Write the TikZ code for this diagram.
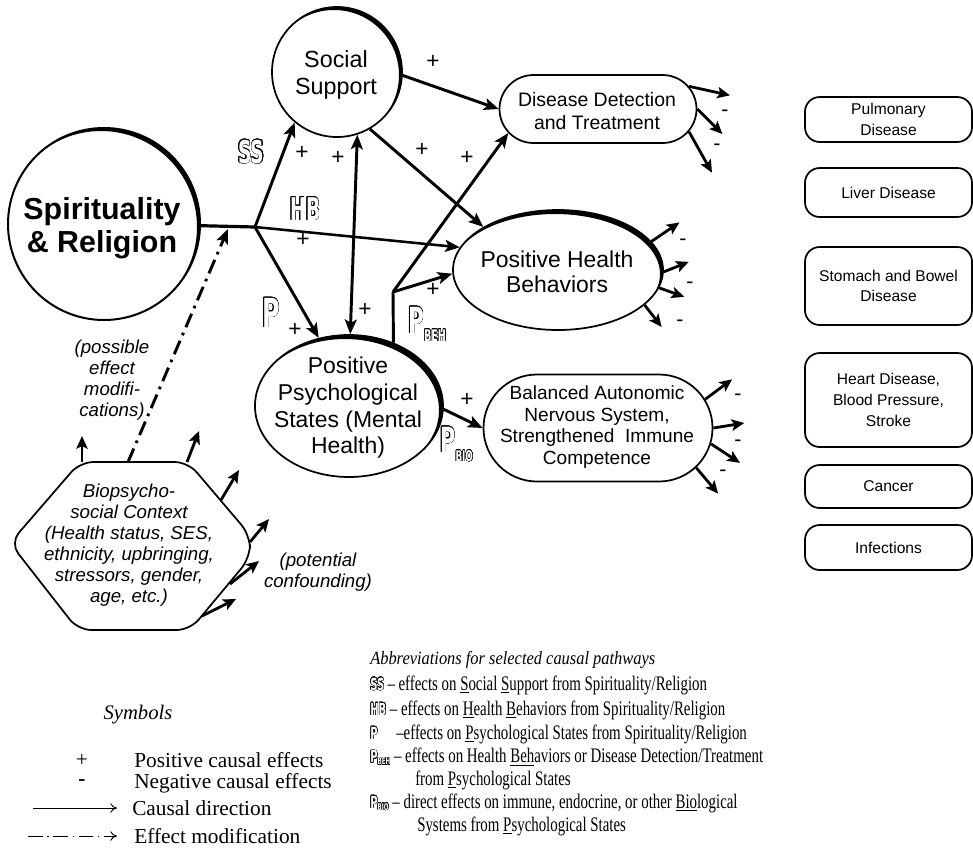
\documentclass[tikz,border=0pt]{standalone}
\usepackage{fontspec}
\setmainfont{Liberation Serif}
\setsansfont{Liberation Sans}
\newfontfamily\decofont[FakeStretch=0.6]{DejaVu Sans}
\newfontfamily\legfont[FakeStretch=0.72]{Liberation Serif}
\newfontfamily\hdrfont[FakeStretch=0.88]{Liberation Serif}
\usepackage{contour}
\usetikzlibrary{shapes.geometric,shapes.misc,arrows.meta}
\newcommand\hol[3]{{\contourlength{#2}\decofont\bfseries\fontsize{#1}{#1}\selectfont\color{white}\contour{black}{#3}}}
\newcommand\symL[1]{\hol{12.5}{0.3pt}{#1}}
\newcommand\subL[1]{\raisebox{-1.5pt}{\hol{7}{0.22pt}{#1}}}
\tikzset{bigtip/.tip={Stealth[length=11pt,width=9pt,inset=2.5pt]},
         smtip/.tip={Stealth[length=9.5pt,width=8.5pt,inset=2pt]}}
\begin{document}
\begin{tikzpicture}[x=0.75pt,y=-0.75pt,
  shp/.style={draw,line width=1.3pt,inner sep=0pt},
  lbl/.style={align=center,inner sep=0pt},
  arr/.style={line width=2.2pt,-bigtip},
  darr/.style={line width=2.2pt,bigtip-bigtip},
  oarr/.style={line width=2.1pt,-smtip},
  plussign/.style={inner sep=0pt,font=\sffamily\fontsize{17}{17}\selectfont},
  minussign/.style={inner sep=0pt,font=\sffamily\fontsize{16}{16}\selectfont},
  dbox/.style={shp,rectangle,rounded corners=11pt,minimum width=125.25pt,align=center,font=\sffamily\fontsize{11.7}{15.5}\selectfont},
  itl/.style={align=center,inner sep=0pt,font=\sffamily\itshape\fontsize{14}{15.75}\selectfont},
  leg/.style={inner sep=0pt,anchor=west,font=\fontsize{16}{19}\selectfont},
  rleg/.style={inner sep=0pt,anchor=west,font=\legfont\fontsize{15.5}{18}\selectfont},
  dashdot/.style={dash pattern=on 11pt off 4.5pt on 2pt off 4.5pt}]
\useasboundingbox (0,0) rectangle (973,854);

% ---------- main shapes ----------
\node[shp,circle,minimum size=144pt,line width=1.5pt] (sr) at (104,224) {};
\node[lbl,font=\sffamily\bfseries\fontsize{22.8}{24.75}\selectfont] (srt) at (102,228) {Spirituality\\\& Religion};
\node[shp,circle,minimum size=97.5pt] (sup) at (337,72) {};
\node[lbl,font=\sffamily\fontsize{17.5}{20}\selectfont] (supt) at (336,75) {Social\\Support};
\node[shp,rounded rectangle,minimum width=147.75pt,minimum height=51pt] (dd) at (598,109) {};
\node[lbl,font=\sffamily\fontsize{14.6}{17.3}\selectfont] (ddt) at (597,111) {Disease Detection\\and Treatment};
\node[shp,ellipse,minimum width=157.5pt,minimum height=90pt] (phb) at (558,270) {};
\node[lbl,font=\sffamily\fontsize{17.2}{18.75}\selectfont] (phbt) at (557,272) {Positive Health\\Behaviors};
\node[shp,ellipse,minimum width=141pt,minimum height=106.5pt] (psy) at (349,406) {};
\node[lbl,font=\sffamily\fontsize{17.2}{20}\selectfont] (psyt) at (348,408) {Positive\\Psychological\\States (Mental\\Health)};
\node[shp,rounded rectangle,minimum width=171.75pt,minimum height=80.25pt] (bal) at (598,428) {};
\node[lbl,font=\sffamily\fontsize{14.3}{16.3}\selectfont] (balt) at (597,427) {Balanced Autonomic\\Nervous System,\\Strengthened~ Immune\\Competence};

% thick shading arcs
\begin{scope}
  \clip (sr.center) circle (96);
  \fill[even odd rule] (sr.center) circle (96) ([shift={(-3,3)}]sr.center) circle (96);
\end{scope}
\begin{scope}
  \clip (sup.center) circle (65);
  \fill[even odd rule] (sup.center) circle (65) ([shift={(-3,3)}]sup.center) circle (65);
\end{scope}
\begin{scope}
  \clip (phb.center) ellipse (105 and 60);
  \fill[even odd rule] (phb.center) ellipse (105 and 60) ([shift={(-3,4)}]phb.center) ellipse (105 and 60);
\end{scope}
\begin{scope}
  \clip (psy.center) ellipse (94 and 71);
  \fill[even odd rule] (psy.center) ellipse (94 and 71) ([shift={(-4,4)}]psy.center) ellipse (94 and 71);
\end{scope}

% disease boxes
\node[dbox,minimum height=33.75pt] (pul) at (888.5,119.5) {Pulmonary\\Disease};
\node[dbox,minimum height=36.75pt] (liv) at (888.5,192.5) {Liver Disease};
\node[dbox,minimum height=58.5pt] (sto) at (888.5,286) {Stomach and Bowel\\Disease};
\node[dbox,minimum height=70.5pt] (hea) at (888.5,400) {Heart Disease,\\Blood Pressure,\\Stroke};
\node[dbox,minimum height=32.25pt] (can) at (888.5,486.5) {Cancer};
\node[dbox,minimum height=33.75pt] (inf) at (888.5,547.5) {Infections};

% biopsychosocial context (outline drawn directly)
\draw[line width=1.3pt,rounded corners=10pt]
  (134,462) -- (188,462) -- (250,535) -- (250,558) -- (190,630) -- (78,630)
  -- (10,543) -- (80,462) -- cycle;
\node[itl] (hex) at (129,545) {Biopsycho-\\social Context\\(Health status, SES,\\ethnicity, upbringing,\\stressors, gender,\\age, etc.)};
\coordinate (h0) at (128,462);
\coordinate (h1) at (82,462);
\coordinate (h2) at (187,462);
\coordinate (h3) at (221,500);
\coordinate (h4) at (250,542);
\coordinate (h5) at (230,584);
\coordinate (h6) at (202,616);
\node[itl] (posst) at (112,380) {(possible\\effect\\modifi-\\cations)};
\node[itl] (pott) at (318,572) {(potential\\confounding)};

% ---------- connectors ----------
\coordinate (j) at (255,227);
\coordinate (mod) at (228,229);
\coordinate (pb) at (393,292);
\draw[line width=2.4pt] (sr.-1) -- (j);
\draw[arr] (j) -- (sup.230);
\draw[arr,line width=1.9pt] (j) -- (phb.167);
\draw[arr] (j) -- (psy.114);
\draw[darr] (sup.288) -- (psy.89);
\draw[arr] (sup.-3) -- (dd.west);
\draw[arr] (sup.-60) -- (phb.150);
\draw[line width=2.2pt] (psy.55) -- (pb);
\draw[arr] (pb) -- (dd.195);
\draw[arr] (pb) -- (phb.182);
\draw[arr] (psy.-2) -- (bal.west);
\draw[line width=2.2pt,dashdot,-bigtip] (h0) -- (mod);

% outgoing arrows
\draw[oarr] (dd.14) -- ++(41,9);
\draw[oarr] (dd.0) -- ++(25,25);
\draw[oarr] (dd.-14) -- ++(23,41);
\draw[oarr] (phb.17) -- ++(28,-19);
\draw[oarr] (phb.-1) -- ++(25,-10);
\draw[oarr] (phb.-10) -- ++(25,9);
\draw[oarr] (phb.-22) -- ++(17,22);
\draw[oarr] (bal.15) -- ++(27,-20);
\draw[oarr] (bal.0) -- ++(31,-5);
\draw[oarr] (bal.-8) -- ++(29,19);
\draw[oarr] (bal.-22) -- ++(22,26);
\draw[oarr] (h1) -- ++(0,-26);
\draw[oarr] (h2) -- ++(12,-31);
\draw[oarr] (h3) -- ++(18,-30);
\draw[oarr] (h4) -- ++(19,-23);
\draw[oarr] (h5) -- ++(29,-23);
\draw[oarr] (h6) -- ++(34,-17);

% plus signs
\node[plussign] (p1) at (433,62) {+};
\node[plussign] (p2) at (302,153) {+};
\node[plussign] (p3) at (338,158) {+};
\node[plussign] (p4) at (422,150) {+};
\node[plussign] (p5) at (467,158) {+};
\node[plussign] (p6) at (303,240) {+};
\node[plussign] (p7) at (295,330) {+};
\node[plussign] (p8) at (365,310) {+};
\node[plussign] (p9) at (433,290) {+};
\node[plussign] (p10) at (467,400) {+};
% minus signs
\node[minussign] (m1) at (725,113) {-};
\node[minussign] (m2) at (717,147) {-};
\node[minussign] (m3) at (683,242) {-};
\node[minussign] (m4) at (690,285) {-};
\node[minussign] (m5) at (680,323) {-};
\node[minussign] (m6) at (738,397) {-};
\node[minussign] (m7) at (738,443) {-};
\node[minussign] (m8) at (723,473) {-};

% pathway symbols
\node[inner sep=0pt,anchor=base west] (ssl) at (238,163) {\hol{23.5}{0.45pt}{SS}};
\node[inner sep=0pt,anchor=base west] (hbl) at (290,220) {\hol{23.5}{0.45pt}{HB}};
\node[inner sep=0pt,anchor=base west] (pl) at (262,327) {\hol{30}{0.45pt}{P}};
\node[inner sep=0pt,anchor=base west] (pbeh) at (408,333) {\hol{27}{0.45pt}{P}\raisebox{-6pt}{\hol{12}{0.3pt}{BEH}}};
\node[inner sep=0pt,anchor=base west] (pbio) at (440,452) {\hol{26}{0.45pt}{P}\raisebox{-7pt}{\hol{11}{0.3pt}{BIO}}};

% ---------- legend: symbols ----------
\node[inner sep=0pt,font=\itshape\fontsize{15.5}{18}\selectfont] (symt) at (138,715) {Symbols};
\node[inner sep=0pt,font=\fontsize{16}{19}\selectfont] (lp) at (82,760) {+};
\node[leg] (lpt) at (134,760) {Positive causal effects};
\node[inner sep=0pt,font=\bfseries\fontsize{16}{19}\selectfont] (lm) at (82,783) {-};
\node[leg] (lmt) at (134,783) {Negative causal effects};
\coordinate (la1) at (33,808);
\coordinate (la2) at (117,808);
\draw[line width=0.7pt,-{To[length=5pt,width=7pt]}] (la1) -- (la2);
\node[leg] (lat) at (132,808) {Causal direction};
\coordinate (lb1) at (28,836);
\coordinate (lb2) at (117,836);
\draw[line width=0.7pt,dash pattern=on 11pt off 3.5pt on 1pt off 3.5pt,-{To[length=5pt,width=7pt]}] (lb1) -- (lb2);
\node[leg] (lbt) at (134,836) {Effect modification};

% ---------- legend: abbreviations ----------
\node[inner sep=0pt,anchor=west,font=\hdrfont\itshape\fontsize{14}{17}\selectfont] (ab0) at (370,660) {Abbreviations for selected causal pathways};
\node[rleg] (ab1) at (370,685) {\symL{SS}\,–\,effects on \underline{S}ocial \underline{S}upport from Spirituality/Religion};
\node[rleg] (ab2) at (370,710) {\symL{HB} – effects on \underline{H}ealth \underline{B}ehaviors from Spirituality/Religion};
\node[rleg] (ab3) at (370,734) {\symL{P}\hspace{14pt}–effects on \underline{P}sychological States from Spirituality/Religion};
\node[rleg] (ab4) at (370,757) {\symL{P}\subL{BEH} – effects on Health \underline{Beh}aviors or Disease Detection/Treatment};
\node[rleg] (ab5) at (415,780) {from \underline{P}sychological States};
\node[rleg] (ab6) at (370,803) {\symL{P}\subL{BIO} – direct effects on immune, endocrine, or other \underline{Bio}logical};
\node[rleg] (ab7) at (417,826) {Systems from \underline{P}sychological States};
\end{tikzpicture}
\end{document}
